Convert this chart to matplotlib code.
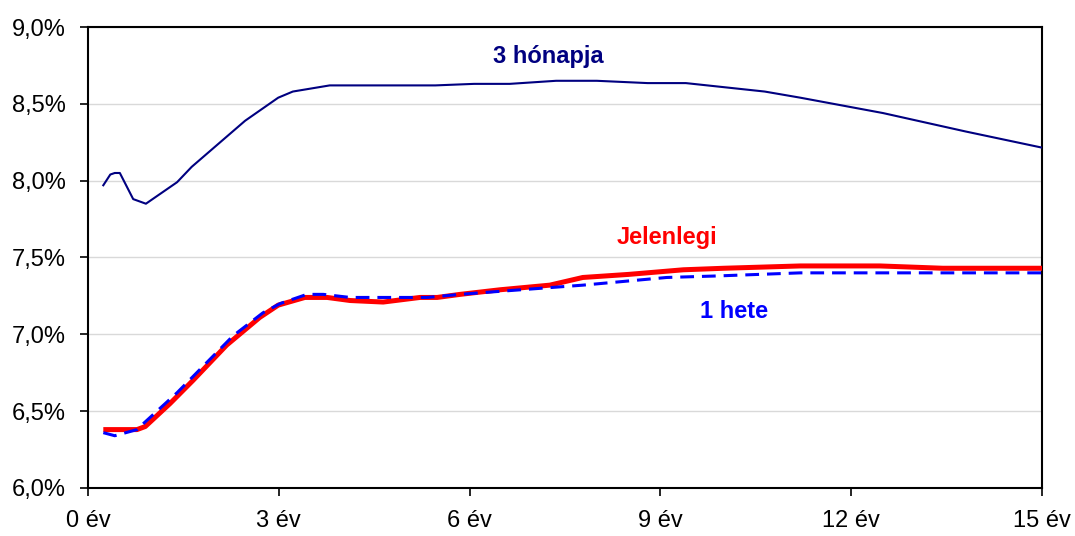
"""Hozamgörbék: 3 hónapja, 1 hete, jelenlegi."""

import matplotlib
matplotlib.use("Agg")
import matplotlib.pyplot as plt

# 3 hónapja
x_3m = [0.24, 0.35, 0.42, 0.50, 0.71, 0.91, 1.40, 1.63, 2.47, 2.99, 3.22, 3.80,
        4.80, 5.46, 6.07, 6.63, 7.36, 8.00, 8.80, 9.40, 10.64, 11.20, 12.50,
        13.80, 15.00]
y_3m = [7.97, 8.04, 8.05, 8.05, 7.88, 7.85, 7.99, 8.09, 8.39, 8.54, 8.58, 8.62,
        8.62, 8.62, 8.63, 8.63, 8.65, 8.65, 8.635, 8.635, 8.58, 8.54, 8.44,
        8.32, 8.215]

# 1 hete
x_1w = [0.24, 0.42, 0.77, 0.82, 1.40, 2.28, 2.75, 3.02, 3.44, 3.70, 4.12, 4.80,
        5.33, 5.85, 6.48, 7.78, 9.10, 9.90, 11.20, 12.00, 15.00]
y_1w = [6.36, 6.34, 6.38, 6.40, 6.62, 6.99, 7.14, 7.20, 7.26, 7.26, 7.24, 7.24,
        7.24, 7.26, 7.28, 7.32, 7.37, 7.38, 7.40, 7.40, 7.40]

# Jelenlegi
x_now = [0.24, 0.77, 0.90, 1.29, 1.65, 2.18, 2.70, 2.99, 3.41, 3.76, 4.12, 4.64,
         5.22, 5.49, 5.85, 6.48, 7.26, 7.78, 8.50, 9.36, 10.00, 11.20, 12.45,
         13.44, 15.00]
y_now = [6.38, 6.38, 6.40, 6.55, 6.70, 6.93, 7.11, 7.19, 7.24, 7.24, 7.22, 7.21,
         7.24, 7.24, 7.26, 7.29, 7.32, 7.37, 7.39, 7.42, 7.43, 7.445, 7.445,
         7.43, 7.43]

x_ticks = [0, 3, 6, 9, 12, 15]
x_labels = ["0 év", "3 év", "6 év", "9 év", "12 év", "15 év"]
y_ticks = [6.0, 6.5, 7.0, 7.5, 8.0, 8.5, 9.0]
y_labels = ["6,0%", "6,5%", "7,0%", "7,5%", "8,0%", "8,5%", "9,0%"]

NAVY = "#000080"
BLUE = "#0000FF"
RED = "#FF0000"

plt.rcParams["font.family"] = ["Liberation Sans", "DejaVu Sans"]

fig = plt.figure(figsize=(10.75, 5.36), dpi=100)
ax = fig.add_axes([0.0819, 0.0896, 0.8874, 0.86])

ax.plot(x_3m, y_3m, color=NAVY, lw=1.5, zorder=3)
ax.plot(x_1w, y_1w, color=BLUE, lw=2.2, linestyle=(0, (4.5, 2.6)), zorder=4)
ax.plot(x_now, y_now, color=RED, lw=3.6, zorder=3, solid_capstyle="butt")

ax.set_xlim(0, 15)
ax.set_ylim(6.0, 9.0)
ax.set_xticks(x_ticks)
ax.set_xticklabels(x_labels, fontsize=17)
ax.set_yticks(y_ticks)
ax.set_yticklabels(y_labels, fontsize=17)
ax.tick_params(axis="both", direction="out", length=6, width=1.2, color="black", pad=10)

ax.yaxis.grid(True, color="#d9d9d9", lw=1.0)
ax.set_axisbelow(True)
for sp in ax.spines.values():
    sp.set_linewidth(1.5)
    sp.set_color("black")

ax.text(7.23, 8.805, "3 hónapja", color=NAVY, fontsize=17, fontweight="bold",
        ha="center", va="center")
ax.text(9.1, 7.63, "Jelenlegi", color=RED, fontsize=17, fontweight="bold",
        ha="center", va="center")
ax.text(10.16, 7.15, "1 hete", color=BLUE, fontsize=17, fontweight="bold",
        ha="center", va="center")

fig.savefig("out.png", dpi=100, facecolor="white")
